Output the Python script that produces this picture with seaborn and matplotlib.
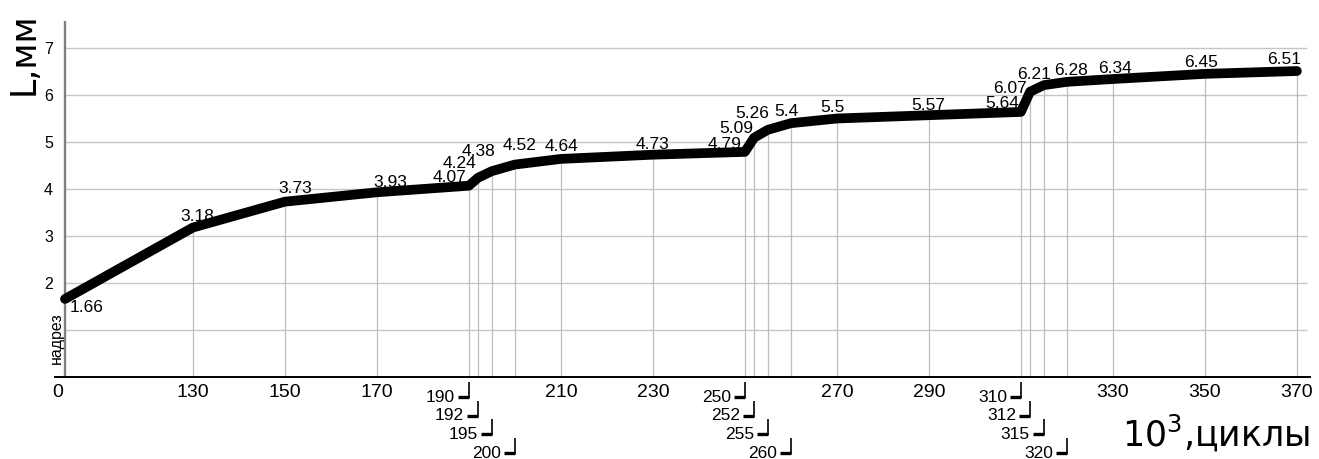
import numpy as np
import matplotlib
matplotlib.use("Agg")
import matplotlib.pyplot as plt
import matplotlib.transforms as mtransforms
import seaborn as sns

# crack length L (mm) versus thousands of load cycles
cycles = [0, 130, 150, 170, 190, 192, 195, 200, 210, 230, 250, 252, 255, 260,
          270, 290, 310, 312, 315, 320, 330, 350, 370]
length = [1.66, 3.18, 3.73, 3.93, 4.07, 4.24, 4.38, 4.52, 4.64, 4.73, 4.79,
          5.09, 5.26, 5.40, 5.50, 5.57, 5.64, 6.07, 6.21, 6.28, 6.34, 6.45, 6.51]
value_text = ["1.66", "3.18", "3.73", "3.93", "4.07", "4.24", "4.38", "4.52",
              "4.64", "4.73", "4.79", "5.09", "5.26", "5.4", "5.5", "5.57",
              "5.64", "6.07", "6.21", "6.28", "6.34", "6.45", "6.51"]
main_ticks = [0, 130, 150, 170, 210, 230, 270, 290, 330, 350, 370]
step_ticks = [190, 192, 195, 200, 250, 252, 255, 260, 310, 312, 315, 320]
y_ticks = [2, 3, 4, 5, 6, 7]
grid_levels = [1, 2, 3, 4, 5, 6, 7]

# label nudges in pixels (dx, dy up) so that crowded labels stay readable
label_nudge = [(22, -9), (4, 11.5), (10, 13.5), (13, 10), (-19, 8), (-19, 14),
               (-13, 20), (5, 19), (1, 12), (0, 10), (-20, 7), (-18, 9),
               (-16, 16), (-4, 12), (-4, 11), (-1, 10), (-19, 8), (-20, 3),
               (-10, 11), (4, 11), (2, 11), (-4, 11), (-13, 12)]

sns.set_theme(style="white")
plt.rcParams["font.family"] = ["Liberation Sans", "DejaVu Sans"]

W, H, DPI = 1319, 459, 100
fig = plt.figure(figsize=(W / DPI, H / DPI), dpi=DPI)
ax = fig.add_axes([55 / W, (H - 377) / H, (1310 - 55) / W, (377 - 21) / H])

# compressed first interval (0..130), uniform spacing afterwards
SPLIT, HEAD = 130.0, 27.8


def fwd(x):
    x = np.asarray(x, dtype=float)
    return np.where(x <= SPLIT, x * HEAD / SPLIT, HEAD + (x - SPLIT))


def inv(p):
    p = np.asarray(p, dtype=float)
    return np.where(p <= HEAD, p * SPLIT / HEAD, SPLIT + (p - HEAD))


PX = 4.6  # pixels per position unit

sns.lineplot(x=cycles, y=length, ax=ax, color="black", linewidth=7.0,
             estimator=None, sort=False, solid_capstyle="round",
             solid_joinstyle="round", zorder=5)

ax.set_xscale("function", functions=(fwd, inv))
x_left = float(inv(-10 / PX))
x_right = float(inv((1310 - 65) / PX))
grid_end = float(inv((1307 - 65) / PX))
ax.set_xlim(x_left, x_right)
ax.set_ylim(0, (377 - 21) / 47)

# grid and drop lines
ax.hlines(grid_levels, 0, grid_end, color="#c6c6c6", lw=1.0, zorder=1)
ax.vlines(cycles[1:], 0, length[1:], color="#bdbdbd", lw=0.9, zorder=1)
ax.axvline(0, color="#808080", lw=1.7, zorder=2)

for s in ["top", "right", "left"]:
    ax.spines[s].set_visible(False)
ax.spines["bottom"].set_color("black")
ax.spines["bottom"].set_linewidth(1.4)

ax.set_yticks(y_ticks)
ax.set_yticklabels([str(v) for v in y_ticks], fontsize=11.5)
ax.tick_params(axis="y", length=0, pad=1.5, colors="black")
ax.set_xticks(main_ticks)
ax.set_xticklabels([str(v) for v in main_ticks], fontsize=14)
ax.tick_params(axis="x", length=0, pad=5, colors="black")
ax.xaxis.set_minor_locator(matplotlib.ticker.NullLocator())
zero_label = ax.get_xticklabels()[0]
zero_label.set_transform(zero_label.get_transform() +
                         mtransforms.ScaledTranslation(-7 / DPI, 0, fig.dpi_scale_trans))
ax.set_xlabel("")
ax.set_ylabel("")

# value labels
pt = 72 / DPI
for x, y, t, (dx, dy) in zip(cycles, length, value_text, label_nudge):
    ha = "left" if x == 0 else "center"
    if x == 0:
        dx -= 17
    ax.annotate(t, xy=(x, y), xytext=(dx * pt, dy * pt), textcoords="offset points",
                ha=ha, va="center", fontsize=12.5, color="black", zorder=4)

# staggered labels for closely spaced cycle counts
blend = mtransforms.blended_transform_factory(ax.transData, fig.dpi_scale_trans)
for i, x in enumerate(step_ticks):
    k = i % 4
    top = 382 + 18.5 * k
    bot = 398 + 18.5 * k
    ax.plot([x, x], [(H - top) / DPI, (H - bot) / DPI], transform=blend,
            color="black", lw=1.2, clip_on=False, solid_capstyle="butt")
    ax.plot([x - 11 / PX, x], [(H - bot + 1) / DPI] * 2, transform=blend,
            color="black", lw=2.4, clip_on=False, solid_capstyle="butt")
    ax.text(x - 14 / PX, (H - bot + 0.5) / DPI, str(x), transform=blend,
            ha="right", va="center", fontsize=12.5, color="black", clip_on=False)

fig.text(56 / W, (H - 338) / H, "надрез", rotation=90, ha="center", va="center",
         fontsize=11.5, color="black")
fig.text(41 / W, (H - 54) / H, "L,мм", rotation=90, ha="right", va="center",
         fontsize=25, family="DejaVu Sans", color="black")
fig.text(1310 / W, (H - 447) / H, r"$\mathregular{10^3}$,циклы", ha="right",
         va="baseline", fontsize=25, family="DejaVu Sans", color="black")

fig.savefig("out.png", dpi=DPI, facecolor="white")
